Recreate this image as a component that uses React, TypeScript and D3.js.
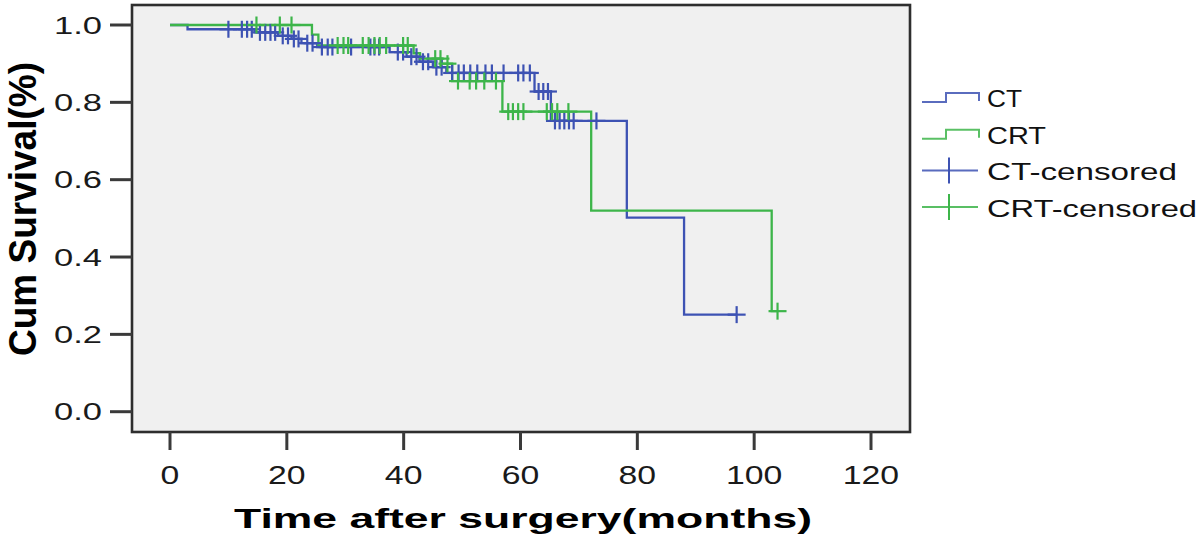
import React from "react";
import * as d3 from "d3";

// ---- data ----
const ctTimes = [0, 3, 14.5, 18.5, 20.8, 22.5, 25.2, 37.6, 40.5, 42.7, 45, 47.3, 62.4, 65.2, 78.2, 88];
const ctSurv = [1.0, 0.989, 0.981, 0.972, 0.964, 0.953, 0.943, 0.93, 0.918, 0.905, 0.891, 0.876, 0.828, 0.752, 0.502, 0.251];
const ctEnd = 97;
const ctCensored = [10, 12.3, 13.2, 14.0, 15.4, 16.3, 17.2, 18.0, 19.3, 20.2, 21.2, 22.0, 23.5, 24.4, 26, 27, 27.8, 31, 34.3, 35, 35.8, 39, 39.9, 41.3, 42.2, 43.3, 44.2, 45.6, 46.5, 48.3, 49.4, 50.3, 51.4, 52.6, 54, 55.1, 57.1, 59.6, 60.5, 61.6, 63.1, 63.9, 64.7, 65.9, 66.7, 67.5, 68.3, 69.1, 73, 97];

const crtTimes = [0, 24.3, 25.4, 41.7, 42.8, 46.5, 48.3, 56.9, 72.1, 103];
const crtSurv = [1.0, 0.975, 0.947, 0.927, 0.913, 0.9, 0.855, 0.776, 0.52, 0.26];
const crtEnd = 104;
const crtCensored = [14.8, 18.8, 20.8, 28.7, 29.7, 30.5, 33, 34, 35, 35.9, 37, 39.9, 40.7, 45.4, 46.3, 47.5, 49.3, 51.3, 52.4, 53.8, 55.8, 57.9, 58.7, 59.6, 60.5, 64.5, 65.4, 66.3, 68.2, 104];

const xTicks = [0, 20, 40, 60, 80, 100, 120];
const yTicks = [0.0, 0.2, 0.4, 0.6, 0.8, 1.0];
const legendLabels = ["CT", "CRT", "CT-censored", "CRT-censored"];

const BLUE = "#3d52b3";
const GREEN = "#3db54a";

export default function App() {
  const W = 1200, H = 545;
  const box = { left: 132, right: 910, top: 5, bottom: 432 };
  const x = d3.scaleLinear().domain([0, 120]).range([170, 871]);
  const y = d3.scaleLinear().domain([0, 1]).range([411.7, 25]);

  const line = d3
    .line<[number, number]>()
    .x((d) => x(d[0]))
    .y((d) => y(d[1]))
    .curve(d3.curveStepAfter);

  const pts = (times: number[], surv: number[], end: number): [number, number][] => {
    const p: [number, number][] = times.map((t, i) => [t, surv[i]]);
    p.push([end, surv[surv.length - 1]]);
    return p;
  };

  const survAt = (times: number[], surv: number[], t: number) => {
    let s = surv[0];
    for (let i = 0; i < times.length; i++) if (times[i] <= t) s = surv[i];
    return s;
  };

  const censorMarks = (times: number[], surv: number[], cens: number[], color: string) =>
    cens.map((t, i) => {
      const cx = x(t);
      const cy = y(survAt(times, surv, t));
      return (
        <g key={i} stroke={color} strokeWidth={2.2}>
          <line x1={cx - 9} x2={cx + 9} y1={cy} y2={cy} />
          <line x1={cx} x2={cx} y1={cy - 8.5} y2={cy + 8.5} />
        </g>
      );
    });

  const fontFam = "'Liberation Sans', Arial, sans-serif";
  const legendBase = 107;
  const legendStep = 36.7;
  const legendTextLen = [35, 59, 190, 210];

  return (
    <svg width={W} height={H} style={{ position: "absolute", left: 0, top: 0 }} fontFamily={fontFam}>
      <rect x={0} y={0} width={W} height={H} fill="#ffffff" />
      {/* plot box */}
      <rect
        x={box.left}
        y={box.top}
        width={box.right - box.left}
        height={box.bottom - box.top}
        fill="#f0f0f0"
        stroke="#2e2e2e"
        strokeWidth={2.6}
      />
      {/* y ticks */}
      {yTicks.map((v) => (
        <g key={v}>
          <line x1={110} x2={box.left} y1={y(v)} y2={y(v)} stroke="#3a3a3a" strokeWidth={3} />
          <text
            x={102}
            y={y(v)}
            dy="0.36em"
            fontSize={24}
            textAnchor="end"
            textLength={48}
            lengthAdjust="spacingAndGlyphs"
            fill="#1a1a1a"
          >
            {v.toFixed(1)}
          </text>
        </g>
      ))}
      {/* x ticks */}
      {xTicks.map((v) => {
        const s = String(v);
        return (
          <g key={v}>
            <line x1={x(v)} x2={x(v)} y1={box.bottom} y2={450} stroke="#3a3a3a" strokeWidth={3} />
            <text
              x={x(v)}
              y={483.5}
              fontSize={26}
              textAnchor="middle"
              textLength={s.length * 0.556 * 26 * 1.3}
              lengthAdjust="spacingAndGlyphs"
              fill="#1a1a1a"
            >
              {s}
            </text>
          </g>
        );
      })}
      {/* curves */}
      <path d={line(pts(ctTimes, ctSurv, ctEnd)) || ""} fill="none" stroke={BLUE} strokeWidth={2.3} />
      <path d={line(pts(crtTimes, crtSurv, crtEnd)) || ""} fill="none" stroke={GREEN} strokeWidth={2.3} />
      {censorMarks(ctTimes, ctSurv, ctCensored, BLUE)}
      {censorMarks(crtTimes, crtSurv, crtCensored, GREEN)}
      {/* axis titles */}
      <text
        x={523}
        y={528}
        fontSize={28}
        fontWeight="bold"
        textAnchor="middle"
        textLength={578}
        lengthAdjust="spacingAndGlyphs"
        fill="#000"
      >
        Time after surgery(months)
      </text>
      <text
        transform="translate(36,209) rotate(-90)"
        fontSize={38}
        fontWeight="bold"
        textAnchor="middle"
        textLength={294}
        lengthAdjust="spacingAndGlyphs"
        fill="#000"
      >
        Cum Survival(%)
      </text>
      {/* legend */}
      {legendLabels.map((lab, i) => {
        const base = legendBase + i * legendStep;
        const color = i % 2 === 0 ? BLUE : GREEN;
        const sym =
          i < 2 ? (
            <path
              d={`M922,${base - 5} H946 V${base - 14} H979 V${base - 6}`}
              fill="none"
              stroke={color}
              strokeWidth={2}
              opacity={0.85}
            />
          ) : (
            <g stroke={color} strokeWidth={2}>
              <line x1={922} x2={978} y1={base - 10} y2={base - 10} opacity={0.85} />
              <line x1={949} x2={949} y1={base - 23} y2={base + 3} />
            </g>
          );
        return (
          <g key={lab}>
            {sym}
            <text
              x={987}
              y={base}
              fontSize={24}
              textLength={legendTextLen[i]}
              lengthAdjust="spacingAndGlyphs"
              fill="#111"
            >
              {lab}
            </text>
          </g>
        );
      })}
    </svg>
  );
}
